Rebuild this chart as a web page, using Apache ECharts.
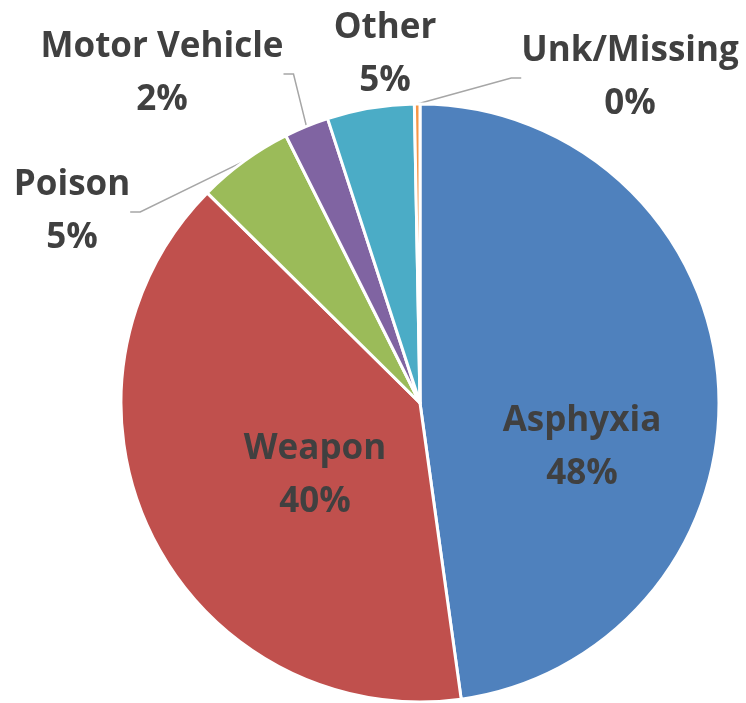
<!DOCTYPE html>
<html>
<head>
<meta charset="utf-8">
<script src="https://cdn.jsdelivr.net/npm/echarts@6/dist/echarts.min.js"></script>
<style>
  html, body { margin: 0; padding: 0; background: #fff; }
  #chart { width: 746px; height: 703px; }
</style>
</head>
<body>
<div id="chart"></div>
<script>
// share of cases by cause (percent), clockwise from 12 o'clock
const categories = ['Asphyxia', 'Weapon', 'Poison', 'Motor Vehicle', 'Other', 'Unk/Missing'];
const shares = [47.8, 39.6, 5.2, 2.4, 4.7, 0.3];
const colors = ['#4f81bd', '#c0504d', '#9bbb59', '#8064a2', '#4bacc6', '#f79646'];

// where each label block sits (center), Excel-style manual placement
const labelSpots = {
  'Asphyxia': [582, 448],
  'Weapon': [315, 476],
  'Poison': [72, 212],
  'Motor Vehicle': [162, 74],
  'Other': [385, 55],
  'Unk/Missing': [630, 78]
};
const insideNames = ['Asphyxia', 'Weapon'];

const chart = echarts.init(document.getElementById('chart'), null, { renderer: 'canvas' });

const data = categories.map((name, i) => ({
  name,
  value: shares[i],
  itemStyle: { color: colors[i] },
  labelLine: { show: !insideNames.includes(name) && name !== 'Other' }
}));

chart.setOption({
  animation: false,
  series: [{
    type: 'pie',
    center: [420, 403],
    radius: 299,
    startAngle: 90,
    clockwise: true,
    avoidLabelOverlap: false,
    itemStyle: { borderColor: '#fff', borderWidth: 3 },
    label: {
      show: true,
      position: 'outside',
      formatter: p => p.name + '\n' + Math.round(p.value) + '%',
      fontFamily: 'Open Sans',
      fontWeight: 'bold',
      fontSize: 35,
      lineHeight: 53,
      color: '#404040',
      align: 'center'
    },
    labelLine: {
      show: true,
      length: 20,
      length2: 10,
      lineStyle: { color: '#a6a6a6', width: 1.5 }
    },
    labelLayout: function (params) {
      const spot = labelSpots[categories[params.dataIndex]];
      return {
        x: spot[0],
        y: spot[1],
        align: 'center',
        verticalAlign: 'middle'
      };
    },
    data
  }]
});
</script>
</body>
</html>
